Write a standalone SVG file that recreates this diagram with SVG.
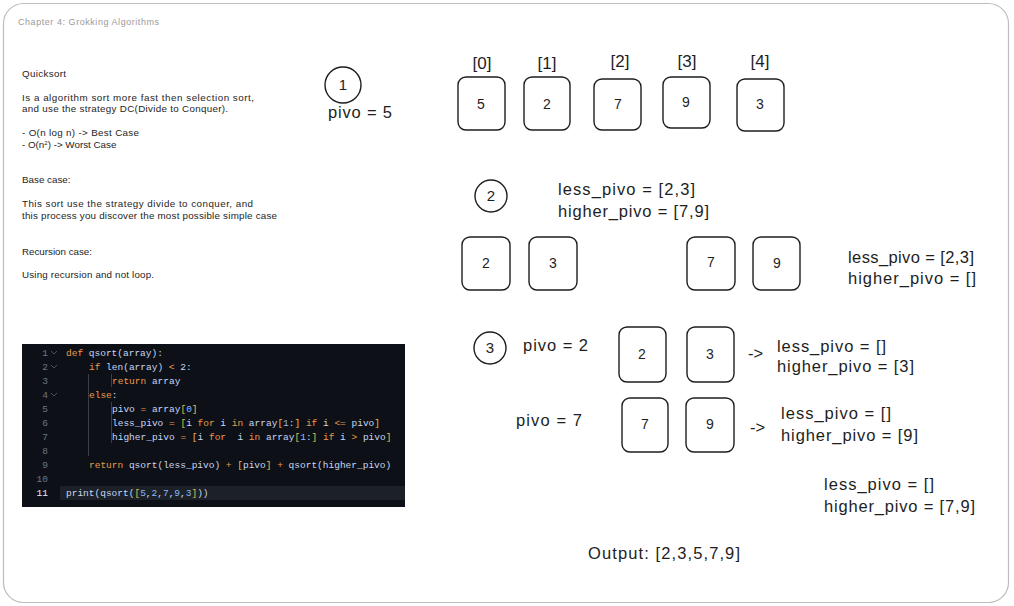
<svg xmlns="http://www.w3.org/2000/svg" width="1014" height="606" viewBox="0 0 1014 606">
<style>
.note{font-family:"Liberation Sans",Arial,sans-serif;font-size:9.8px;fill:#1e1e1e}
.hand{font-family:"Liberation Sans",Arial,sans-serif;font-size:16.5px;fill:#1e1e1e}
.num{font-family:"Liberation Sans",Arial,sans-serif;font-size:14px;fill:#1e1e1e;text-anchor:middle}
.idx{font-family:"Liberation Sans",Arial,sans-serif;font-size:17px;fill:#1e1e1e;text-anchor:middle}
.box{fill:none;stroke:#1e1e1e;stroke-width:1.4}
.circ{fill:none;stroke:#1e1e1e;stroke-width:1.4}
.code{font-family:"Liberation Mono","DejaVu Sans Mono",monospace;font-size:9.5px;fill:#c9d5f5}
.ln{font-family:"Liberation Mono","DejaVu Sans Mono",monospace;font-size:9.5px;fill:#6e7681;text-anchor:end}
.kw{fill:#ec9a4b}
.br{fill:#e2bf4c}
.nb{fill:#8fb8ff}
</style>
<rect x="0" y="0" width="1014" height="606" fill="#ffffff"/>
<rect id="frame" x="3.5" y="3.5" width="1005" height="599" rx="20" fill="#ffffff" stroke="#bdbdbd" stroke-width="1.2"/>

<g id="notes">
<text x="18" y="25" class="note" style="fill:#9a9a9a;font-size:9px" textLength="141">Chapter 4: Grokking Algorithms</text>
<text x="22" y="77" class="note" textLength="44">Quicksort</text>
<text x="22" y="101" class="note" textLength="232">Is a algorithm sort more fast then selection sort,</text>
<text x="22" y="112" class="note" textLength="206">and use the strategy DC(Divide to Conquer).</text>
<text x="22" y="136" class="note" textLength="117">- O(n log n) -&gt; Best Case</text>
<text x="22" y="148" class="note">- O(n<tspan dy="-3" style="font-size:6px">2</tspan><tspan dy="3">) -&gt; Worst Case</tspan></text>
<text x="22" y="183" class="note">Base case:</text>
<text x="22" y="207" class="note" textLength="231">This sort use the strategy divide to conquer, and</text>
<text x="22" y="219" class="note" textLength="255">this process you discover the most possible simple case</text>
<text x="22" y="255" class="note" textLength="70">Recursion case:</text>
<text x="22" y="278" class="note" textLength="132">Using recursion and not loop.</text>
</g>

<g id="code">
<rect x="22" y="344" width="383" height="163" fill="#0d1117"/>
<rect x="60" y="486" width="345" height="14" fill="#1c2128"/>
<g stroke="#3a3f47" stroke-width="1">
<line x1="88.5" y1="374" x2="88.5" y2="456"/>
<line x1="111.5" y1="374" x2="111.5" y2="387"/>
<line x1="111.5" y1="402" x2="111.5" y2="443"/>
</g>
<g fill="none" stroke="#5a6068" stroke-width="0.8">
<polyline points="51,351 54,354 57,351"/>
<polyline points="51,365 54,368 57,365"/>
<polyline points="51,393 54,396 57,393"/>
</g>
<text class="ln" x="48" y="356">1</text>
<text class="ln" x="48" y="370">2</text>
<text class="ln" x="48" y="384">3</text>
<text class="ln" x="48" y="398">4</text>
<text class="ln" x="48" y="412">5</text>
<text class="ln" x="48" y="426">6</text>
<text class="ln" x="48" y="440">7</text>
<text class="ln" x="48" y="454">8</text>
<text class="ln" x="48" y="468">9</text>
<text class="ln" x="48" y="482">10</text>
<text class="ln" x="48" y="496" style="fill:#e6edf3">11</text>
<text class="code" x="66" y="356" xml:space="preserve"><tspan class="kw">def</tspan> qsort(array):</text>
<text class="code" x="89" y="370" xml:space="preserve"><tspan class="kw">if</tspan> len(array) <tspan class="kw">&lt;</tspan> 2:</text>
<text class="code" x="112" y="384" xml:space="preserve"><tspan class="kw">return</tspan> array</text>
<text class="code" x="89" y="398" xml:space="preserve"><tspan class="kw">else</tspan>:</text>
<text class="code" x="112" y="412" xml:space="preserve">pivo <tspan class="kw">=</tspan> array<tspan class="br">[</tspan><tspan class="nb">0</tspan><tspan class="br">]</tspan></text>
<text class="code" x="112" y="426" xml:space="preserve">less_pivo <tspan class="kw">=</tspan> <tspan class="br">[</tspan>i <tspan class="kw">for</tspan> i <tspan class="kw">in</tspan> array<tspan class="br">[</tspan><tspan class="nb">1</tspan>:<tspan class="br">]</tspan> <tspan class="kw">if</tspan> i <tspan class="kw">&lt;=</tspan> pivo<tspan class="br">]</tspan></text>
<text class="code" x="112" y="440" xml:space="preserve">higher_pivo <tspan class="kw">=</tspan> <tspan class="br">[</tspan>i <tspan class="kw">for</tspan>  i <tspan class="kw">in</tspan> array<tspan class="br">[</tspan><tspan class="nb">1</tspan>:<tspan class="br">]</tspan> <tspan class="kw">if</tspan> i <tspan class="kw">&gt;</tspan> pivo<tspan class="br">]</tspan></text>
<text class="code" x="89" y="468" xml:space="preserve"><tspan class="kw">return</tspan> qsort(less_pivo) <tspan class="kw">+</tspan> <tspan class="br">[</tspan>pivo<tspan class="br">]</tspan> <tspan class="kw">+</tspan> qsort(higher_pivo)</text>
<text class="code" x="66" y="496" xml:space="preserve">print(qsort(<tspan class="br">[</tspan><tspan class="nb">5</tspan>,<tspan class="nb">2</tspan>,<tspan class="nb">7</tspan>,<tspan class="nb">9</tspan>,<tspan class="nb">3</tspan><tspan class="br">]</tspan>))</text>
</g>

<g id="step1">
<circle class="circ" cx="343" cy="85" r="18"/>
<text class="num" x="343" y="90" style="font-size:15px">1</text>
<text class="hand" x="328" y="118" textLength="64">pivo = 5</text>
</g>

<g id="array">
<text class="idx" x="482" y="69">[0]</text>
<text class="idx" x="547" y="69">[1]</text>
<text class="idx" x="620" y="67">[2]</text>
<text class="idx" x="687" y="67">[3]</text>
<text class="idx" x="760" y="67">[4]</text>
<rect class="box" x="458" y="77" width="47" height="53" rx="8"/>
<text class="num" x="481" y="109">5</text>
<rect class="box" x="524" y="77" width="46" height="53" rx="8"/>
<text class="num" x="547" y="109">2</text>
<rect class="box" x="594" y="79" width="47" height="51" rx="8"/>
<text class="num" x="618" y="109">7</text>
<rect class="box" x="663" y="77" width="47" height="51" rx="8"/>
<text class="num" x="686" y="107">9</text>
<rect class="box" x="737" y="79" width="47" height="52" rx="8"/>
<text class="num" x="760" y="109">3</text>
</g>

<g id="step2">
<circle class="circ" cx="491" cy="196" r="16"/>
<text class="num" x="491" y="201" style="font-size:15px">2</text>
<text class="hand" x="558" y="195" textLength="137">less_pivo = [2,3]</text>
<text class="hand" x="558" y="217" textLength="151">higher_pivo = [7,9]</text>
<rect class="box" x="462" y="237" width="48" height="53" rx="8"/>
<text class="num" x="486" y="268">2</text>
<rect class="box" x="529" y="237" width="48" height="53" rx="8"/>
<text class="num" x="553" y="268">3</text>
<rect class="box" x="687" y="237" width="48" height="53" rx="8"/>
<text class="num" x="711" y="267">7</text>
<rect class="box" x="753" y="237" width="47" height="53" rx="8"/>
<text class="num" x="777" y="268">9</text>
<text class="hand" x="848" y="263" textLength="126">less_pivo = [2,3]</text>
<text class="hand" x="848" y="284" textLength="128">higher_pivo = []</text>
</g>

<g id="step3">
<circle class="circ" cx="490" cy="348" r="16"/>
<text class="num" x="490" y="353" style="font-size:15px">3</text>
<text class="hand" x="523" y="351" textLength="65">pivo = 2</text>
<rect class="box" x="619" y="327" width="47" height="55" rx="8"/>
<text class="num" x="642" y="359">2</text>
<rect class="box" x="687" y="327" width="47" height="55" rx="8"/>
<text class="num" x="710" y="359">3</text>
<text class="hand" x="748" y="359">-&gt;</text>
<text class="hand" x="777" y="352" textLength="109">less_pivo = []</text>
<text class="hand" x="777" y="372" textLength="137">higher_pivo = [3]</text>
<text class="hand" x="516" y="426" textLength="66">pivo = 7</text>
<rect class="box" x="622" y="398" width="46" height="54" rx="8"/>
<text class="num" x="645" y="429">7</text>
<rect class="box" x="686" y="398" width="48" height="54" rx="8"/>
<text class="num" x="710" y="429">9</text>
<text class="hand" x="750" y="433">-&gt;</text>
<text class="hand" x="781" y="419" textLength="110">less_pivo = []</text>
<text class="hand" x="781" y="441" textLength="137">higher_pivo = [9]</text>
<text class="hand" x="824" y="490" textLength="110">less_pivo = []</text>
<text class="hand" x="824" y="512" textLength="151">higher_pivo = [7,9]</text>
</g>

<g id="output">
<text class="hand" x="588" y="559" textLength="152">Output: [2,3,5,7,9]</text>
</g>
</svg>
